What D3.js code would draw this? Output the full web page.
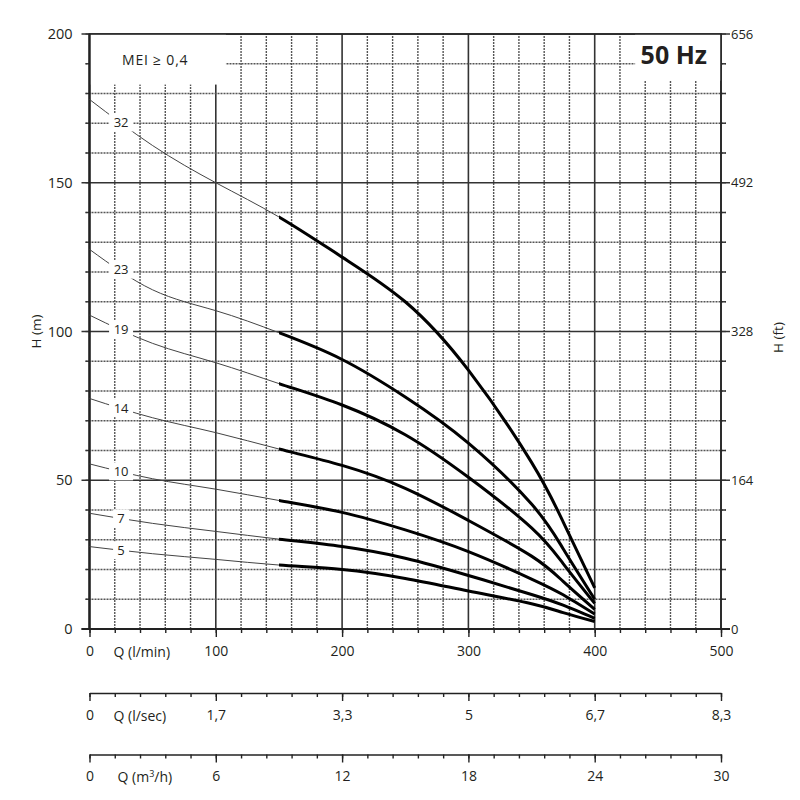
<!DOCTYPE html>
<html><head><meta charset="utf-8">
<script src="https://cdn.jsdelivr.net/npm/d3@7"></script>
<style>
html,body{margin:0;padding:0;background:#fff;}
svg text{font-family:"Open Sans","Noto Sans",sans-serif;fill:#231f20;}
</style></head>
<body>
<svg id="chart" width="800" height="800"></svg>
<script>
// ---- data ----
const qFlow = [0, 50, 100, 150, 200, 250, 300, 350, 375, 400]; // l/min
const head32 = [178, 162.5, 150, 138.5, 125, 110, 87, 56, 36, 13.8];
const head23 = [127.6, 114, 107, 99.6, 90.6, 78, 62.5, 42, 27, 10];
const head19 = [105.5, 96, 89.5, 82.5, 75.3, 65.3, 51, 34, 22, 8.6];
const head14 = [77.5, 71, 66, 60.5, 55, 47.3, 36.5, 24.5, 16, 6.6];
const head10 = [55.5, 50.5, 47, 43.2, 39.2, 33.3, 26, 16.8, 11.5, 5];
const head7  = [38.9, 35.5, 32.8, 30.2, 27.7, 23.8, 18, 11.6, 8, 3.6];
const head5  = [27.7, 25.3, 23.4, 21.5, 20, 17, 12.8, 8.5, 5.5, 2.5];
const stageLabels = ["32", "23", "19", "14", "10", "7", "5"];
const thickFrom = 150;          // l/min: recommended range begins
const labelAtQ = 25;            // where stage labels sit on thin curves

const hTicksM = [0, 50, 100, 150, 200];
const hTicksFt = ["0", "164", "328", "492", "656"];
const qMajor = [0, 100, 200, 300, 400, 500];
const qLsecLabels = ["0", "1,7", "3,3", "5", "6,7", "8,3"];
const qM3hLabels = ["0", "6", "12", "18", "24", "30"];

const series = [head32, head23, head19, head14, head10, head7, head5].map((h, i) => ({
  label: stageLabels[i],
  pts: qFlow.map((q, j) => ({q: q, h: h[j]}))
}));

// ---- scales ----
const x = d3.scaleLinear().domain([0, 500]).range([89.5, 721]);
const y = d3.scaleLinear().domain([0, 200]).range([629, 34]);
const svg = d3.select("#chart");

// ---- grid ----
const grid = svg.append("g");
d3.range(0, 501, 20).forEach(q => {
  const major = q % 100 === 0;
  grid.append("line")
    .attr("x1", x(q)).attr("x2", x(q)).attr("y1", y(0)).attr("y2", y(200))
    .attr("stroke", major ? "#333" : "#555")
    .attr("stroke-width", major ? 1.6 : 1.4)
    .attr("stroke-dasharray", major ? null : "2,1");
});
d3.range(0, 201, 10).forEach(h => {
  const major = h % 50 === 0;
  grid.append("line")
    .attr("x1", x(0) - (major ? 8 : 4)).attr("x2", x(500) + (major ? 9 : 5))
    .attr("y1", y(h)).attr("y2", y(h))
    .attr("stroke", major ? "#333" : "#555")
    .attr("stroke-width", major ? 1.6 : 1.4)
    .attr("stroke-dasharray", major ? null : "2,1");
});
d3.range(0, 201, 10).forEach(h => {
  grid.append("line").attr("x1", x(0) - 4).attr("x2", x(0)).attr("y1", y(h)).attr("y2", y(h))
    .attr("stroke", "#333").attr("stroke-width", 1.3);
  grid.append("line").attr("x1", x(500)).attr("x2", x(500) + 5).attr("y1", y(h)).attr("y2", y(h))
    .attr("stroke", "#333").attr("stroke-width", 1.3);
});

// white boxes for the text panels
svg.append("rect").attr("x", x(0)).attr("y", y(200))
  .attr("width", x(108) - x(0)).attr("height", y(183) - y(200)).attr("fill", "#fff");
svg.append("rect").attr("x", x(432)).attr("y", y(200))
  .attr("width", x(500) - x(432)).attr("height", y(184.3) - y(200)).attr("fill", "#fff");

// frame
svg.append("rect").attr("x", x(0)).attr("y", y(200))
  .attr("width", x(500) - x(0)).attr("height", y(0) - y(200))
  .attr("fill", "none").attr("stroke", "#222").attr("stroke-width", 1.6);
svg.append("line").attr("x1", x(0)).attr("x2", x(0)).attr("y1", y(0)).attr("y2", y(200))
  .attr("stroke", "#222").attr("stroke-width", 2.2);
svg.append("line").attr("x1", x(0) - 8).attr("x2", x(500) + 9).attr("y1", y(0)).attr("y2", y(0))
  .attr("stroke", "#222").attr("stroke-width", 2.2);

// ---- curves ----
const line = d3.line().x(d => x(d.q)).y(d => y(d.h)).curve(d3.curveNatural);
svg.append("clipPath").attr("id", "thickClip").append("rect")
  .attr("x", x(thickFrom)).attr("y", 0).attr("width", x(500) - x(thickFrom)).attr("height", 800);
svg.append("clipPath").attr("id", "thinClip").append("rect")
  .attr("x", 0).attr("y", 0).attr("width", x(thickFrom) + 1).attr("height", 800);

const curves = svg.append("g");
series.forEach(s => {
  curves.append("path").attr("d", line(s.pts)).attr("fill", "none")
    .attr("stroke", "#444").attr("stroke-width", 1).attr("clip-path", "url(#thinClip)");
  curves.append("path").attr("d", line(s.pts)).attr("fill", "none")
    .attr("stroke", "#000").attr("stroke-width", 3).attr("clip-path", "url(#thickClip)");
});

// stage labels on the thin parts
series.forEach(s => {
  const a = s.pts[0], b = s.pts[1];
  const hl = a.h + (b.h - a.h) * (labelAtQ - a.q) / (b.q - a.q);
  const g = svg.append("g").attr("transform", `translate(${x(labelAtQ)},${y(hl)})`);
  const w = s.label.length > 1 ? 24 : 16;
  g.append("rect").attr("x", -w / 2).attr("y", -9).attr("width", w).attr("height", 18).attr("fill", "#fff");
  g.append("text").attr("text-anchor", "middle").attr("dy", "0.36em")
    .style("font-size", "13px").text(s.label);
});

// ---- left / right H axes ----
hTicksM.forEach(h => {
  svg.append("text").attr("x", x(0) - 17).attr("y", y(h)).attr("dy", "0.36em")
    .attr("text-anchor", "end").style("font-size", "14.5px").text(h);
});
hTicksFt.forEach((t, i) => {
  svg.append("text").attr("x", x(500) + 10).attr("y", y(hTicksM[i])).attr("dy", "0.36em")
    .attr("text-anchor", "start").style("font-size", "13px").text(t);
});
svg.append("text").attr("transform", `translate(41,${(y(0) + y(200)) / 2}) rotate(-90)`)
  .attr("text-anchor", "middle").style("font-size", "13.5px").text("H (m)");
svg.append("text").attr("transform", `translate(783,${(y(0) + y(200)) / 2 + 6}) rotate(-90)`)
  .attr("text-anchor", "middle").style("font-size", "13.5px").text("H (ft)");

// ---- bottom Q axes ----
function qAxis(yPos, labels, title, domainLine) {
  const g = svg.append("g").attr("transform", `translate(0,${yPos})`);
  const minor = d3.axisBottom(x).tickValues(d3.range(0, 501, 20)).tickSize(4).tickSizeOuter(0).tickFormat("");
  const gm = g.append("g").call(minor);
  if (!domainLine) gm.select(".domain").remove();
  const major = d3.axisBottom(x).tickValues(qMajor).tickSize(8).tickSizeOuter(0).tickPadding(9)
    .tickFormat((d, i) => labels[i]);
  const gM = g.append("g").call(major);
  gM.select(".domain").remove();
  g.selectAll("line").attr("stroke", "#222").attr("stroke-width", 1.4);
  g.selectAll(".domain").attr("stroke", "#222").attr("stroke-width", 1.6);
  gM.selectAll("text").style("font-size", "14px").attr("fill", "#231f20")
    .style("font-family", '"Open Sans","Noto Sans",sans-serif');
  if (title) g.append("text").attr("x", x(0) + 24).attr("y", 18).attr("dy", "0.71em")
    .attr("text-anchor", "start").style("font-size", "14px").text(title);
  return g;
}
qAxis(y(0), qMajor.map(String), "Q (l/min)", false);
qAxis(693, qLsecLabels, "Q (l/sec)", true);
const g3 = qAxis(754.5, qM3hLabels, "", true);
g3.append("text").attr("x", x(0) + 28).attr("y", 18).attr("dy", "0.71em")
  .attr("text-anchor", "start").style("font-size", "14px")
  .html('Q (m<tspan dy="-5" style="font-size:9px">3</tspan><tspan dy="5">/h)</tspan>');

// ---- panel texts ----
svg.append("text").attr("x", 122).attr("y", 65).style("font-size", "14px")
  .style("letter-spacing", "0.8px").text("MEI \u2265 0,4");
svg.append("text").attr("x", 707).attr("y", 64).attr("text-anchor", "end")
  .style("font-size", "25px").style("font-weight", "bold").text("50 Hz");
</script>
</body></html>
